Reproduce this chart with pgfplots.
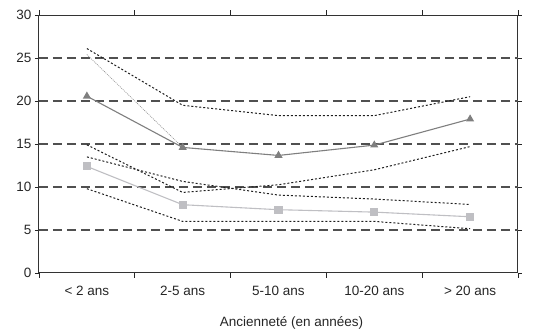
\documentclass[border=0pt]{standalone}
\usepackage{pgfplots}
\pgfplotsset{compat=1.18}
\usepackage{fontspec}
\setmainfont{Liberation Sans}
\definecolor{trig}{HTML}{7F7F7F}
\definecolor{sq}{HTML}{BFBFC3}
\definecolor{dotc}{HTML}{1E1E1E}
\definecolor{gridc}{HTML}{505050}
\begin{document}
\begin{tikzpicture}
\begin{axis}[
  name=ax,
  scale only axis,
  width=479pt, height=258pt,
  xmin=-0.5, xmax=4.5, ymin=0, ymax=30,
  xtick={0,1,2,3,4},
  xticklabels={{< 2 ans},{2-5 ans},{5-10 ans},{10-20 ans},{> 20 ans}},
  minor xtick={-0.5,0.5,1.5,2.5,3.5,4.5},
  ytick={0,5,10,15,20,25,30},
  extra y ticks={5,10,15,20,25},
  extra y tick labels={},
  extra y tick style={grid=major, major tick length=0pt},
  tick align=outside,
  major tick length=4pt,
  minor tick length=5pt,
  major x tick style={draw=none},
  tick style={color=black!85, line width=0.9pt},
  axis line style={color=black!80, line width=1pt},
  major grid style={color=gridc, line width=1.25pt, dash pattern=on 9pt off 5pt},
  /pgf/number format/assume math mode=true,
  ticklabel style={font=\fontsize{13.5}{16}\selectfont, text=black!85},
  xticklabel style={yshift=-6pt},
  xlabel={Ancienneté (en années)},
  xlabel style={font=\fontsize{13.5}{16}\selectfont, text=black!85, xshift=13pt, yshift=-14pt},
  clip=false,
]
% light gray dotted line
\addplot[color=black!45, line width=0.6pt, dash pattern=on 1pt off 1pt] coordinates {(0,25.4) (1,14.6)};
% triangle series CI
\addplot[color=dotc, line width=1pt, dash pattern=on 2pt off 2pt] coordinates {(0,26.1) (1,19.5) (2,18.3) (3,18.3) (4,20.5)};
\addplot[color=dotc, line width=1pt, dash pattern=on 2pt off 2pt] coordinates {(0,14.9) (1,9.37) (2,10.26) (3,12.0) (4,14.7)};
% square series CI
\addplot[color=dotc, line width=1pt, dash pattern=on 2pt off 2pt] coordinates {(0,13.5) (1,10.65) (2,9.06) (3,8.6) (4,7.97)};
\addplot[color=dotc, line width=1pt, dash pattern=on 2pt off 2pt] coordinates {(0,9.8) (1,6.0) (2,6.0) (3,6.0) (4,5.15)};
% triangle series
\addplot[color=trig, line width=1.1pt, mark=triangle*, mark size=3.6pt, mark options={fill=trig, draw=trig, solid}] coordinates {(0,20.56) (1,14.6) (2,13.67) (3,14.87) (4,17.9)};
% square series
\addplot[color=sq, line width=1.1pt, mark=square*, mark size=3.5pt, mark options={fill=sq, draw=sq, solid}] coordinates {(0,12.39) (1,7.94) (2,7.36) (3,7.08) (4,6.54)};
\end{axis}
\path[use as bounding box] ([shift={(-39pt,-56pt)}]ax.south west) rectangle ([shift={(503pt,273pt)}]ax.south west);
\end{tikzpicture}
\end{document}
